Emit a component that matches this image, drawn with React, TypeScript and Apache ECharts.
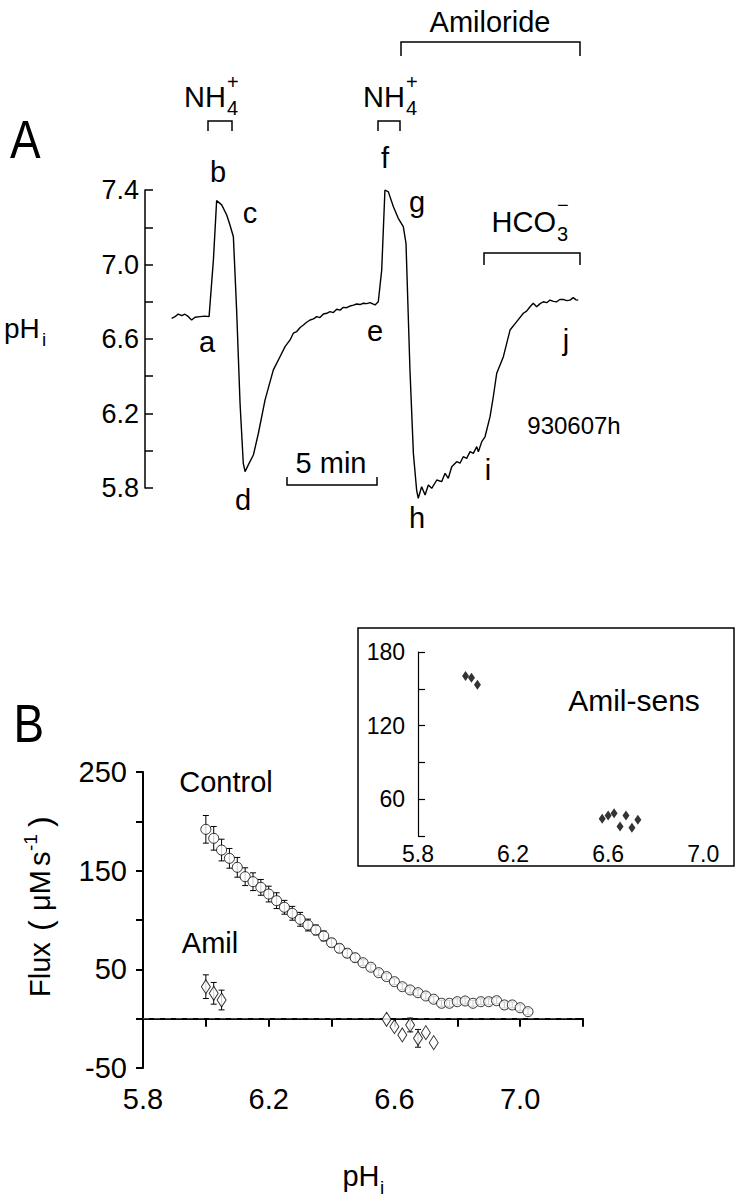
import React, { useEffect, useRef } from 'react';
import * as echarts from 'echarts';

const FONT = "'Liberation Sans', Arial, sans-serif";

// ---------- Panel A: pHi trace (time in min, pHi) ----------
const traceTime = [
  1.48, 1.67, 1.85, 2.04, 2.22, 2.41, 2.59, 2.78, 3.06, 3.33, 3.56,
  3.8, 3.98, 4.26, 4.54, 4.72, 4.91, 5.09, 5.28, 5.46, 5.56, 5.74,
  6.02, 6.3, 6.67, 7.13, 7.5, 7.78, 8.06, 8.24, 8.43, 8.62, 8.8, 8.98, 9.17, 9.36,
  9.54, 9.72, 9.91, 10.1, 10.28, 10.46, 10.65, 10.84, 11.02, 11.2, 11.39, 11.58, 11.76,
  11.95, 12.13, 12.32, 12.5, 12.78, 12.96,
  13.15, 13.33, 13.52, 13.8, 14.07, 14.35, 14.5, 14.72, 14.91, 15.09,
  15.18, 15.37, 15.56, 15.74, 15.93, 16.21, 16.48, 16.67, 16.85, 17.04,
  17.32, 17.5, 17.68, 17.87, 18.06, 18.24, 18.43, 18.52, 18.71, 18.89,
  19.17, 19.35, 19.54, 19.91, 20.28, 20.65, 21.02, 21.2, 21.39, 21.57, 21.76,
  21.95, 22.13, 22.32, 22.5, 22.69, 22.87, 23.05, 23.24, 23.42, 23.61, 23.79, 23.95, 24.07,
];
const tracePH = [
  6.711, 6.72, 6.734, 6.725, 6.733, 6.72, 6.702, 6.717, 6.72, 6.723, 6.72,
  7.024, 7.343, 7.32, 7.266, 7.212, 7.149, 6.756, 6.255, 5.933, 5.888, 5.924,
  5.977, 6.094, 6.273, 6.434, 6.505, 6.559, 6.595, 6.631, 6.64, 6.662, 6.675, 6.69, 6.702, 6.708,
  6.72, 6.715, 6.734, 6.738, 6.747, 6.742, 6.76, 6.755, 6.77, 6.768, 6.777, 6.782, 6.788,
  6.785, 6.792, 6.79, 6.795, 6.783, 6.8,
  6.97, 7.4, 7.39, 7.31, 7.248, 7.203, 7.114, 6.434, 5.986, 5.789,
  5.745, 5.807, 5.762, 5.816, 5.798, 5.843, 5.834, 5.879, 5.852, 5.914,
  5.941, 5.933, 5.968, 5.959, 5.995, 5.986, 6.022, 5.995, 6.049, 6.075,
  6.183, 6.29, 6.416, 6.505, 6.648, 6.693, 6.738, 6.75, 6.773, 6.792, 6.773,
  6.79, 6.8, 6.795, 6.809, 6.802, 6.8, 6.812, 6.813, 6.806, 6.809, 6.822, 6.81, 6.809,
];

// ---------- Panel B: flux vs pHi ----------
const controlPH = [
  6.0, 6.025, 6.05, 6.075, 6.1, 6.125, 6.15, 6.175, 6.2, 6.225, 6.25, 6.275, 6.3, 6.325,
  6.35, 6.375, 6.4, 6.425, 6.45, 6.475, 6.5, 6.525, 6.55, 6.575, 6.6, 6.625, 6.65, 6.675,
  6.7, 6.725, 6.75, 6.775, 6.8, 6.825, 6.85, 6.875, 6.9, 6.925, 6.95, 6.975, 7.0, 7.025,
];
const controlFlux = [
  191.9, 182.8, 170.9, 162.5, 153.4, 143.9, 138.8, 133.1, 126.3, 119.6, 112.9, 106.8, 100.7, 94.9,
  89.9, 83.8, 77.0, 71.3, 66.3, 61.8, 56.7, 52.1, 46.6, 42.6, 37.5, 32.4, 29.1, 26.3,
  23.0, 19.7, 15.6, 15.6, 17.2, 17.9, 15.6, 17.2, 17.2, 18.2, 13.9, 13.9, 11.1, 7.1,
];
const controlErr = [
  14, 12, 11, 10, 10, 9, 9, 8, 8, 8, 7, 7, 7, 6,
  5, 5, 4, 4, 4, 4, 3, 3, 3, 3, 3, 3, 3, 3,
  3, 3, 3, 3, 3, 3, 3, 3, 3, 3, 3, 3, 3, 3,
];
const amilPH = [6.0, 6.025, 6.05, 6.575, 6.6, 6.625, 6.65, 6.675, 6.7, 6.725];
const amilFlux = [32.4, 25.7, 18.9, -0.6, -8.1, -16.5, -6.4, -19.9, -14.2, -24.3];
const amilErr = [12, 11, 10, 0, 0, 0, 7, 9, 0, 0];

// inset: amiloride-sensitive flux
const sensPH = [6.0, 6.025, 6.05, 6.575, 6.6, 6.625, 6.65, 6.675, 6.7, 6.725];
const sensFlux = [160.4, 159.1, 153.4, 44.0, 46.7, 48.6, 37.7, 46.7, 36.7, 43.2];

const fmtEvery = (base: number, step: number, every: number) => (v: number) => {
  const k = Math.round((v - base) / step);
  return k % every === 0 ? (Math.round(v * 10) / 10).toFixed(1) : '';
};

function errorBars(xAxisIndex: number, yAxisIndex: number, xs: number[], ys: number[], errs: number[], capW: number) {
  const data = xs
    .map((x, i) => [x, ys[i] - errs[i], ys[i] + errs[i]])
    .filter((_, i) => errs[i] > 0);
  return {
    type: 'custom',
    xAxisIndex,
    yAxisIndex,
    z: 1,
    data,
    encode: { x: 0, y: [1, 2] },
    renderItem: (_p: any, api: any) => {
      const x = api.value(0);
      const lo = api.coord([x, api.value(1)]);
      const hi = api.coord([x, api.value(2)]);
      const w = capW / 2;
      const style = { stroke: '#000', lineWidth: 1, fill: null };
      return {
        type: 'group',
        children: [
          { type: 'line', shape: { x1: lo[0], y1: lo[1], x2: hi[0], y2: hi[1] }, style },
          { type: 'line', shape: { x1: lo[0] - w, y1: lo[1], x2: lo[0] + w, y2: lo[1] }, style },
          { type: 'line', shape: { x1: hi[0] - w, y1: hi[1], x2: hi[0] + w, y2: hi[1] }, style },
        ],
      };
    },
  };
}

const txt = (text: string, x: number, y: number, size: number, align = 'center', extra: any = {}) => ({
  type: 'text',
  x,
  y,
  z: 10,
  style: { text, fontSize: size, fontFamily: FONT, fill: '#000', align, verticalAlign: 'middle' },
  ...extra,
});
const poly = (points: number[][], width = 1.5) => ({
  type: 'polyline',
  z: 10,
  shape: { points },
  style: { stroke: '#000', lineWidth: width, fill: null },
});

export default function App() {
  const ref = useRef<HTMLDivElement>(null);
  useEffect(() => {
    if (!ref.current) return;
    const chart = echarts.init(ref.current, null, { renderer: 'svg' });
    const axisLabelBase = { color: '#000', fontFamily: FONT };
    const option: any = {
      animation: false,
      backgroundColor: '#fff',
      grid: [
        { left: 145, top: 190, width: 450, height: 298 },
        { left: 143, top: 772, width: 440, height: 296 },
        { left: 418, top: 652, width: 309, height: 184 },
      ],
      xAxis: [
        { gridIndex: 0, type: 'value', min: 0, max: 25, show: false },
        {
          gridIndex: 1, type: 'value', min: 5.8, max: 7.2, interval: 0.2,
          axisLine: { lineStyle: { color: '#000', width: 2 } },
          axisTick: { length: 8, lineStyle: { color: '#000', width: 2 } },
          splitLine: { show: false },
          axisLabel: { ...axisLabelBase, fontSize: 29, margin: 16, formatter: fmtEvery(5.8, 0.2, 2) },
        },
        {
          gridIndex: 2, type: 'value', min: 5.8, max: 7.1, interval: 0.2,
          axisLine: { show: false },
          axisTick: { show: false },
          splitLine: { show: false },
          axisLabel: { ...axisLabelBase, fontSize: 23, margin: 6, formatter: fmtEvery(5.8, 0.2, 2) },
        },
      ],
      yAxis: [
        {
          gridIndex: 0, type: 'value', min: 5.8, max: 7.4, interval: 0.2,
          axisLine: { show: true, lineStyle: { color: '#000', width: 1.5 } },
          axisTick: { show: true, inside: true, length: 8, lineStyle: { color: '#000', width: 1.5 } },
          splitLine: { show: false },
          axisLabel: { ...axisLabelBase, fontSize: 27, margin: 6, formatter: fmtEvery(5.8, 0.2, 2) },
        },
        {
          gridIndex: 1, type: 'value', min: -50, max: 250, interval: 50,
          axisLine: { show: true, lineStyle: { color: '#000', width: 2 } },
          axisTick: { show: true, length: 7, lineStyle: { color: '#000', width: 2 } },
          splitLine: { show: false },
          axisLabel: {
            ...axisLabelBase, fontSize: 29, margin: 16,
            formatter: (v: number) => (Math.round((v + 50) / 50) % 2 === 0 ? String(Math.round(v)) : ''),
          },
        },
        {
          gridIndex: 2, type: 'value', min: 30, max: 180, interval: 30,
          axisLine: { show: true, lineStyle: { color: '#000', width: 1.2 } },
          axisTick: { show: true, inside: true, length: 7, lineStyle: { color: '#000', width: 1.2 } },
          splitLine: { show: false },
          axisLabel: {
            ...axisLabelBase, fontSize: 23, margin: 13,
            formatter: (v: number) => (Math.round(v) % 60 === 0 ? String(Math.round(v)) : ''),
          },
        },
      ],
      series: [
        {
          type: 'line', xAxisIndex: 0, yAxisIndex: 0, clip: false, symbol: 'none',
          lineStyle: { color: '#000', width: 1.4 },
          data: traceTime.map((t, i) => [t, tracePH[i]]),
        },
        {
          type: 'line', xAxisIndex: 1, yAxisIndex: 1, symbol: 'none', z: 0,
          lineStyle: { color: '#555', width: 1, type: [6, 5] },
          data: [[5.8, 0], [7.175, 0]],
        },
        errorBars(1, 1, controlPH, controlFlux, controlErr, 6),
        errorBars(1, 1, amilPH, amilFlux, amilErr, 6),
        {
          type: 'scatter', xAxisIndex: 1, yAxisIndex: 1, z: 3, symbol: 'circle', symbolSize: 10,
          itemStyle: { color: '#fff', borderColor: '#000', borderWidth: 1 },
          data: controlPH.map((p, i) => [p, controlFlux[i]]),
        },
        {
          type: 'scatter', xAxisIndex: 1, yAxisIndex: 1, z: 3, symbol: 'diamond', symbolSize: [9, 14],
          itemStyle: { color: '#fff', borderColor: '#000', borderWidth: 1 },
          data: amilPH.map((p, i) => [p, amilFlux[i]]),
        },
        {
          type: 'scatter', xAxisIndex: 2, yAxisIndex: 2, z: 3, symbol: 'diamond', symbolSize: [7, 10],
          itemStyle: { color: '#000' },
          data: sensPH.map((p, i) => [p, sensFlux[i]]),
        },
      ],
      graphic: [
        // Panel A
        txt('A', 22, 140, 54, 'center', { scaleX: 0.85, originX: 22, originY: 140 }),
        txt('Amiloride', 490, 22, 29),
        poly([[401, 56], [401, 42], [580, 42], [580, 56]]),
        txt('NH', 226, 97, 29, 'right'),
        txt('4', 227, 108, 20, 'left'),
        txt('+', 227, 82, 20, 'left'),
        poly([[208, 131], [208, 121], [232, 121], [232, 131]]),
        txt('NH', 405, 97, 29, 'right'),
        txt('4', 406, 108, 20, 'left'),
        txt('+', 406, 82, 20, 'left'),
        poly([[378, 131], [378, 121], [400, 121], [400, 131]]),
        txt('HCO', 556, 222, 29, 'right'),
        txt('3', 557, 234, 20, 'left'),
        txt('\u2212', 557, 205, 20, 'left'),
        poly([[484, 265], [484, 253], [580, 253], [580, 265]]),
        txt('5 min', 331, 463, 29),
        poly([[287, 477], [287, 485], [377, 485], [377, 477]]),
        txt('930607h', 574, 425, 24),
        txt('pH', 4, 328, 28, 'left'),
        txt('i', 42, 339, 19, 'left'),
        txt('a', 207, 342, 29),
        txt('b', 218, 172, 29),
        txt('c', 250, 213, 29),
        txt('d', 243, 500, 29),
        txt('e', 375, 331, 29),
        txt('f', 385, 158, 29),
        txt('g', 417, 202, 29),
        txt('h', 417, 518, 29),
        txt('i', 488, 470, 29),
        txt('j', 566, 340, 29),
        // Panel B
        txt('B', 25, 724, 54, 'center', { scaleX: 0.85, originX: 25, originY: 724 }),
        txt('Control', 226, 782, 29),
        txt('Amil', 210, 943, 29),
        txt('pH', 361, 1176, 29),
        txt('i', 380, 1187, 19, 'left'),
        {
          type: 'group', x: 40, y: 997, rotation: Math.PI / 2, z: 10,
          children: [
            txt('Flux', 0, 0, 29, 'left'),
            txt('(', 66, 0, 32, 'left'),
            txt('\u03BCM', 86, 0, 29, 'left'),
            txt('s', 131, 0, 29, 'left'),
            txt('-1', 146, -10, 19, 'left'),
            txt(')', 170, 0, 32, 'left'),
          ],
        },
        // inset
        {
          type: 'rect', z: 5,
          shape: { x: 358, y: 628, width: 376, height: 238 },
          style: { stroke: '#000', lineWidth: 1.5, fill: null },
        },
        txt('Amil-sens', 634, 700, 30),
      ],
    };
    chart.setOption(option);
    return () => chart.dispose();
  }, []);
  return <div ref={ref} style={{ position: 'absolute', left: 0, top: 0, width: 738, height: 1199 }} />;
}
